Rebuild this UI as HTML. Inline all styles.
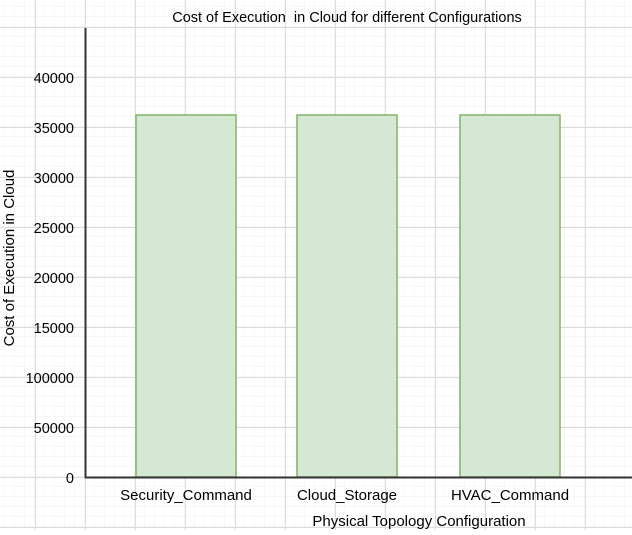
<!DOCTYPE html>
<html><head><style>
html,body{margin:0;padding:0;}
body{width:632px;height:530px;overflow:hidden;background:#fff;}
</style></head><body>
<svg width="632" height="530" xmlns="http://www.w3.org/2000/svg" font-family="Liberation Sans, Arial, sans-serif">
<defs>
<pattern id="minor" width="10" height="10" patternUnits="userSpaceOnUse" x="5" y="7">
<path d="M10 0V10M0 10H10" stroke="#efefef" stroke-width="1" fill="none"/>
</pattern>
<pattern id="major" width="50" height="50" patternUnits="userSpaceOnUse" x="35" y="27">
<path d="M0.5 0V50M0 0.5H50" stroke="#dcdcdc" stroke-width="1" fill="none"/>
</pattern>
</defs>
<rect width="632" height="530" fill="url(#minor)"/>
<rect width="632" height="530" fill="url(#major)"/>
<text x="347" y="22" font-size="14.5" text-anchor="middle" fill="#000">Cost of Execution&#160; in Cloud for different Configurations</text>
<g fill="#d5e8d4" stroke="#82b366" stroke-width="1.5">
<rect x="136" y="115" width="100" height="362"/>
<rect x="297" y="115" width="100" height="362"/>
<rect x="460" y="115" width="100" height="362"/>
</g>
<line x1="85.5" y1="28" x2="85.5" y2="478" stroke="#333" stroke-width="2"/>
<line x1="85" y1="477.5" x2="632" y2="477.5" stroke="#333" stroke-width="2"/>
<g font-size="14.5" text-anchor="end" fill="#000">
<text x="74" y="83">40000</text>
<text x="74" y="133">35000</text>
<text x="74" y="183">30000</text>
<text x="74" y="233">25000</text>
<text x="74" y="283">20000</text>
<text x="74" y="333">15000</text>
<text x="74" y="383">100000</text>
<text x="74" y="433">50000</text>
<text x="74" y="483">0</text>
</g>
<g font-size="15" text-anchor="middle" fill="#000">
<text x="186" y="500">Security_Command</text>
<text x="347" y="500">Cloud_Storage</text>
<text x="510" y="500">HVAC_Command</text>
<text x="419" y="526">Physical Topology Configuration</text>
<text transform="translate(14,258) rotate(-90)">Cost of Execution in Cloud</text>
</g>
</svg>
</body></html>
